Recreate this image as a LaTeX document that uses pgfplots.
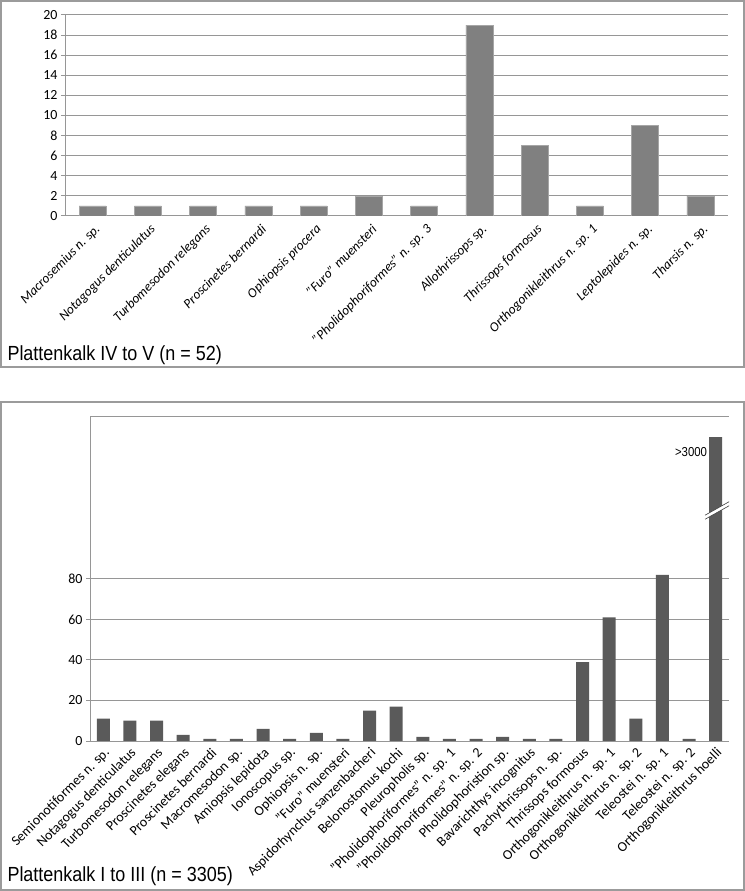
\documentclass[border=0pt]{standalone}
\usepackage{fontspec}
\setmainfont{Carlito}
\newfontfamily\arialn[FakeStretch=0.88]{Liberation Sans}
\usepackage{pgfplots}
\pgfplotsset{compat=1.18}
\definecolor{gridc}{RGB}{150,150,150}
\definecolor{boxc}{RGB}{155,155,155}
\definecolor{barA}{RGB}{128,128,128}
\definecolor{barB}{RGB}{90,90,90}
\begin{document}
\begin{tikzpicture}
\useasboundingbox (0bp,0bp) rectangle (745bp,891bp);
\draw[boxc, line width=1.5bp] (1bp,524bp) rectangle (744bp,890bp);
\draw[boxc, line width=1.5bp] (1bp,1bp) rectangle (744bp,489bp);
\begin{axis}[
 at={(65bp,675bp)}, anchor=south west, scale only axis, width=663bp, height=201bp,
 xmin=-0.5, xmax=11.5, ymin=0, ymax=20,
 axis x line*=bottom, axis y line*=left,
 axis line style={gridc, line width=1bp, -},
 ytick={0,2,...,20},
 ymajorgrids, grid style={gridc, line width=1bp},
 xtick={0,...,11},
 xticklabels={Macrosemius n. sp., Notagogus denticulatus, Turbomesodon relegans, Proscinetes bernardi, Ophiopsis procera, "Furo" muensteri, "Pholidophoriformes" n. sp. 3, Allothrissops sp., Thrissops formosus, Orthogonikleithrus n. sp. 1, Leptolepides n. sp., Tharsis n. sp.},
 x tick style={draw=none},
 extra x ticks={-0.5,0.5,...,11.5}, extra x tick labels={},
 extra x tick style={tick style={gridc, line width=1bp}, major tick length=5bp, tick align=outside, grid=none},
 y tick style={gridc, line width=1bp}, tick align=outside, major tick length=4bp,
 xticklabel style={rotate=45, anchor=east, font=\itshape\fontsize{13.5}{13.5}\selectfont, inner sep=1bp, yshift=-9bp},
 yticklabel style={font=\fontsize{14}{14}\selectfont},
 /pgf/number format/assume math mode=true,
 ybar, bar width=0.49, bar shift=0pt,
]
\addplot[fill=barA, draw=barA!70!white] coordinates {(0,1) (1,1) (2,1) (3,1) (4,1) (5,2) (6,1) (7,19) (8,7) (9,1) (10,9) (11,2)};
\end{axis}
\node[anchor=west, font=\arialn\fontsize{20.5}{20.5}\selectfont] at (4bp,536bp) {Plattenkalk IV to V (n = 52)};

\begin{axis}[
 at={(90bp,150bp)}, anchor=south west, scale only axis, width=639bp, height=324bp,
 xmin=-0.5, xmax=23.5, ymin=0, ymax=160,
 axis x line*=bottom, axis y line*=left,
 axis line style={gridc, line width=1bp, -},
 ytick={0,20,...,80},
 extra y ticks={160}, extra y tick labels={}, extra y tick style={grid=major, major tick length=0pt},
 ymajorgrids, grid style={gridc, line width=1bp},
 xtick={0,...,23},
 xticklabels={Semionotiformes n. sp., Notagogus denticulatus, Turbomesodon relegans, Proscinetes elegans, Proscinetes bernardi, Macromesodon sp., Amiopsis lepidota, Ionoscopus sp., Ophiopsis n. sp., "Furo" muensteri, Aspidorhynchus sanzenbacheri, Belonostomus kochi, Pleuropholis sp., "Pholidophoriformes" n. sp. 1, "Pholidophoriformes" n. sp. 2, Pholidophoristion sp., Bavarichthys incognitus, Pachythrissops n. sp., Thrissops formosus, Orthogonikleithrus n. sp. 1, Orthogonikleithrus n. sp. 2, Teleostei n. sp. 1, Teleostei n. sp. 2, Orthogonikleithrus hoelli},
 x tick style={draw=none},
 extra x ticks={-0.5,0.5,...,23.5}, extra x tick labels={},
 extra x tick style={tick style={gridc, line width=1bp}, major tick length=5bp, tick align=outside, grid=none},
 y tick style={gridc, line width=1bp}, tick align=outside, major tick length=4bp,
 xticklabel style={rotate=45, anchor=east, font=\fontsize{14}{14}\selectfont, inner sep=1bp, yshift=-7bp},
 yticklabel style={font=\fontsize{14}{14}\selectfont},
 /pgf/number format/assume math mode=true,
 ybar, bar width=0.49, bar shift=0pt,
]
\addplot[fill=barB, draw=none] coordinates {(0,11) (1,10) (2,10) (3,3) (4,1) (5,1) (6,6) (7,1) (8,4) (9,1) (10,15) (11,17) (12,2) (13,1) (14,1) (15,2) (16,1) (17,1) (18,39) (19,61) (20,11) (21,82) (22,1) (23,150)};
\fill[white] (axis cs:22.6,109.5) -- (axis cs:23.55,116.5) -- (axis cs:23.55,118.5) -- (axis cs:22.6,111.5) -- cycle;
\draw[barB!70!black, line width=0.6bp] (axis cs:22.6,109.5) -- (axis cs:23.55,116.5);
\draw[barB!70!black, line width=0.6bp] (axis cs:22.6,111.5) -- (axis cs:23.55,118.5);
\node[anchor=east, font=\arialn\fontsize{13}{13}\selectfont, inner sep=1bp] at (axis cs:22.72,142.7) {>3000};
\end{axis}
\node[anchor=west, font=\arialn\fontsize{20.5}{20.5}\selectfont] at (4bp,15bp) {Plattenkalk I to III (n = 3305)};
\end{tikzpicture}
\end{document}
